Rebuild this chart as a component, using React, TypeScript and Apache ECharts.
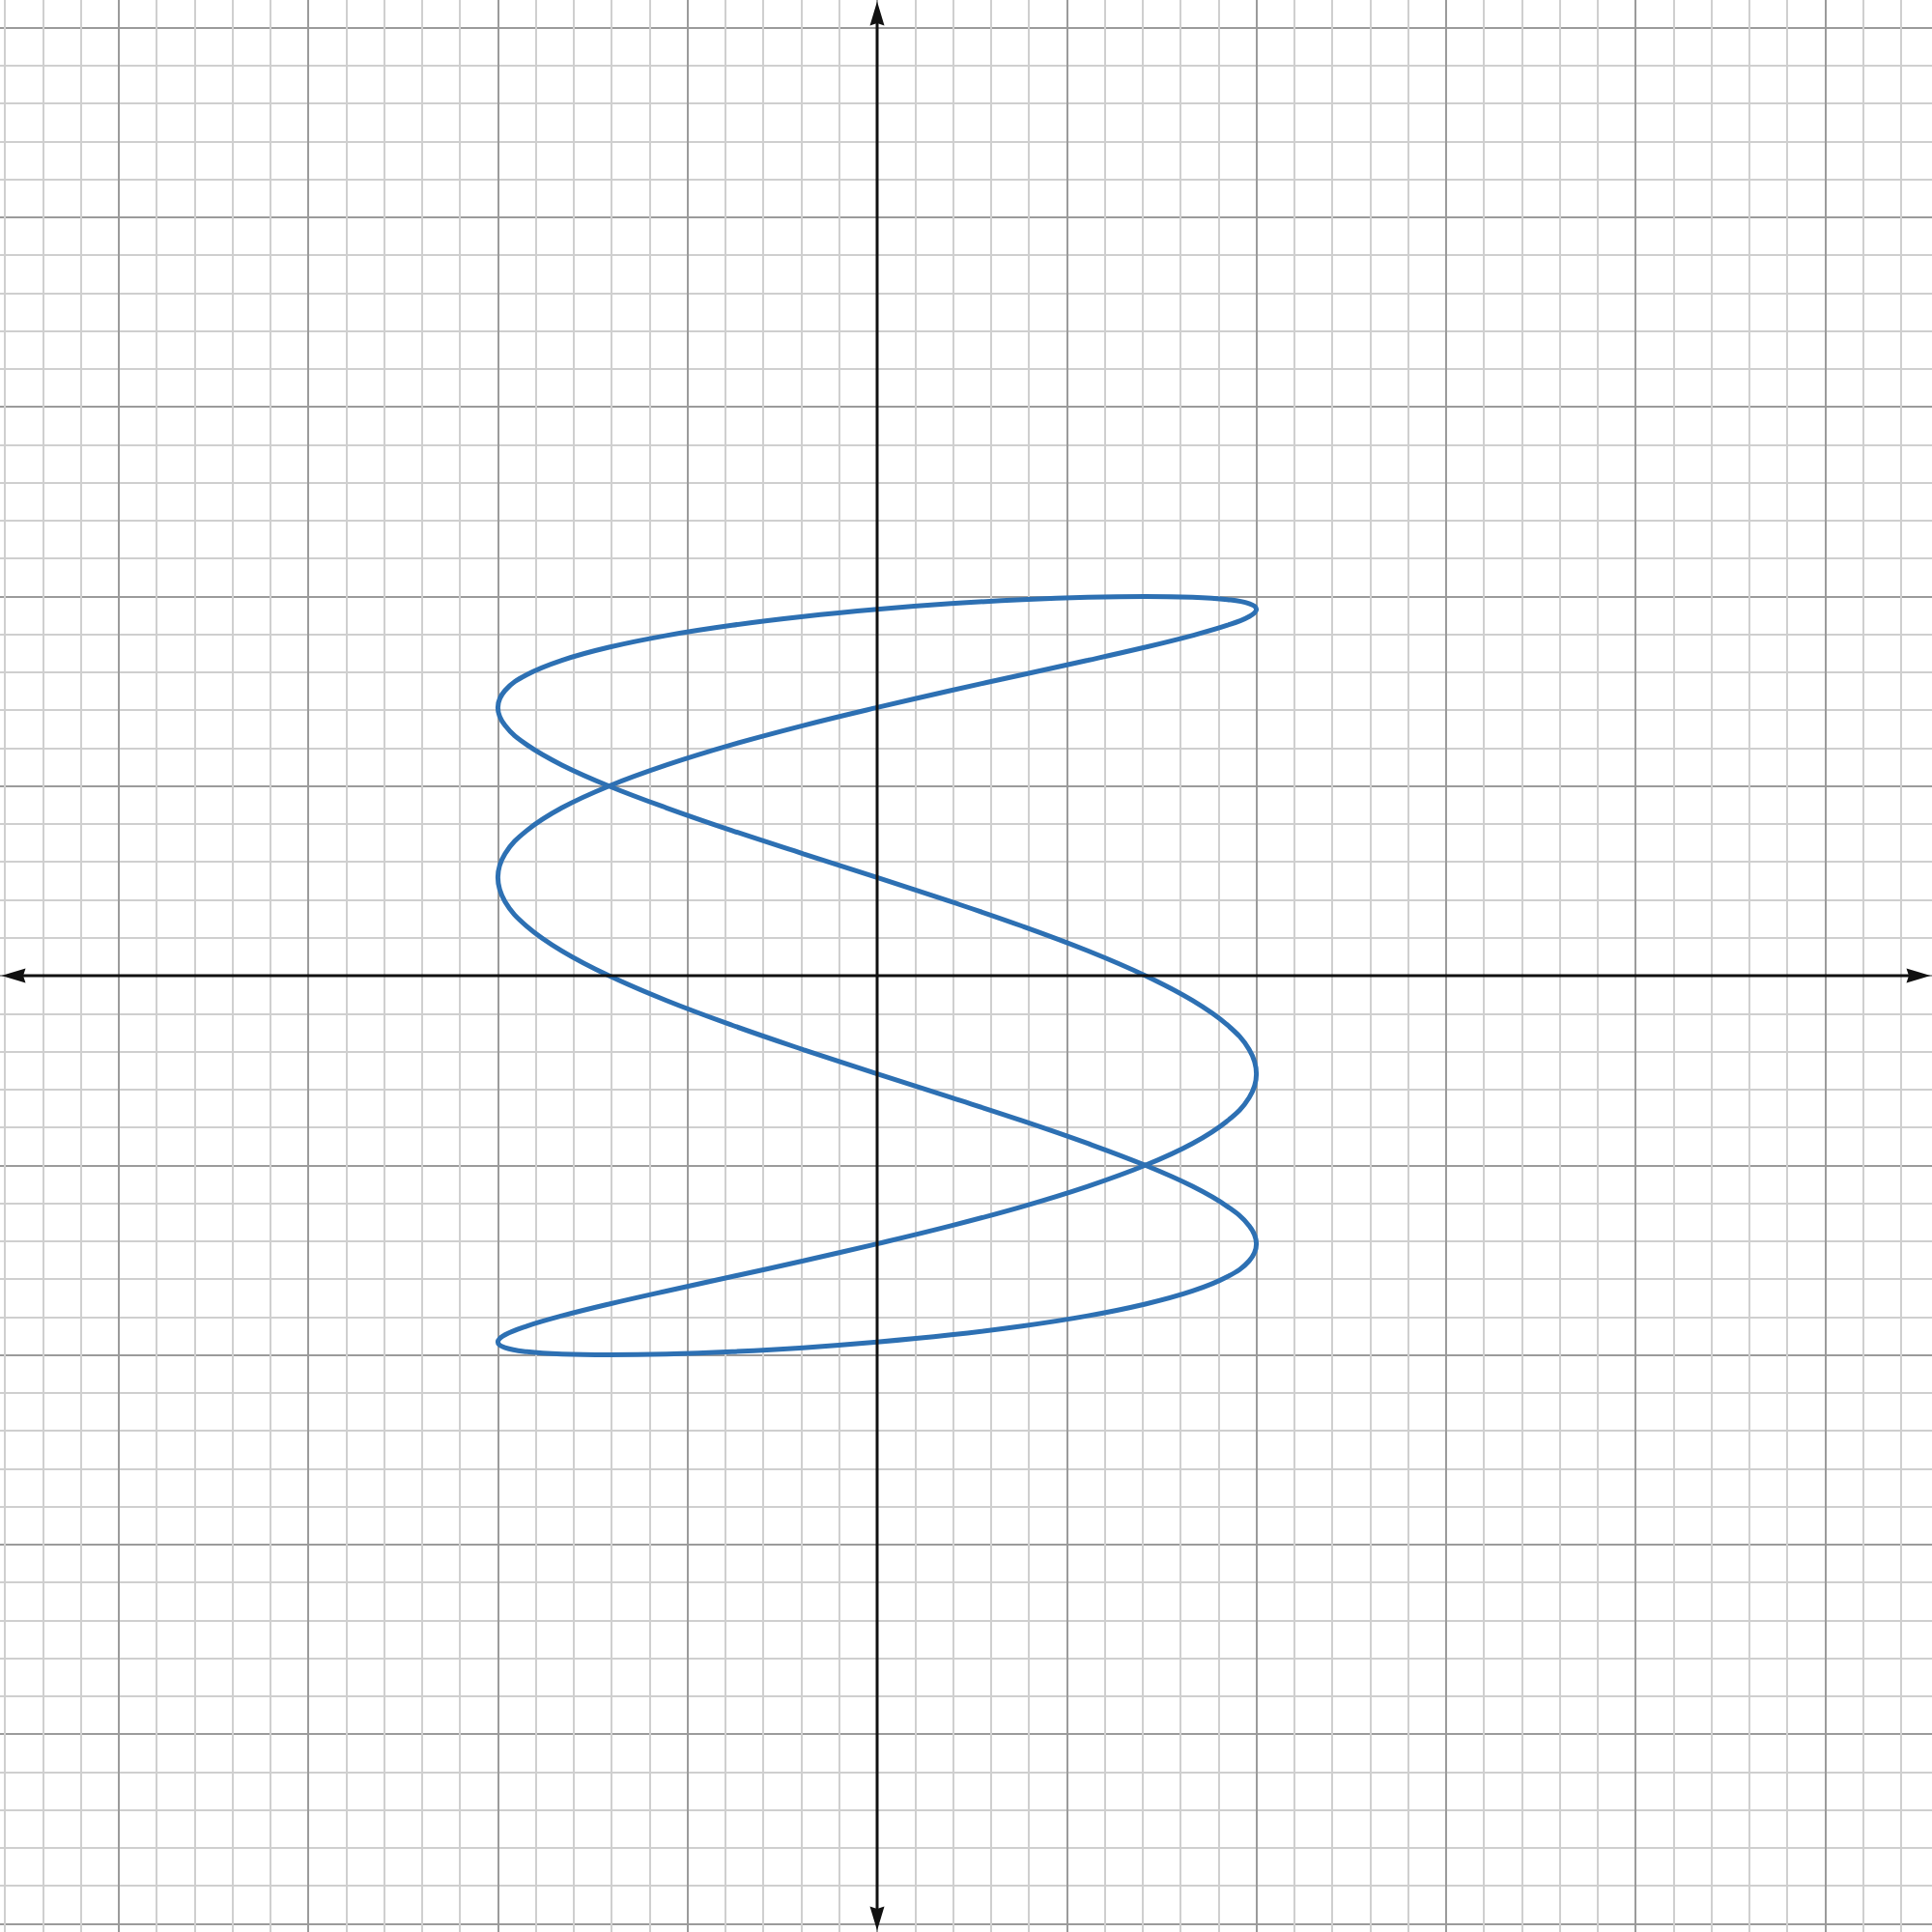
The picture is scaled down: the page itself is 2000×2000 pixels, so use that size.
import React, { useEffect, useRef } from "react";
import * as echarts from "echarts";

// Curve points (x, y in graph units), traced once around the closed loop
const xCycle = [
  1.414, 1.663, 1.848, 1.962, 2, 1.962, 1.848, 1.663, 1.414, 1.111, 0.765, 0.39, 0, -0.39, -0.765, -1.111,
  -1.414, -1.663, -1.848, -1.962, -2, -1.962, -1.848, -1.663, -1.414, -1.111, -0.765, -0.39, 0, 0.39, 0.765, 1.111,
];
const curveX = [
  1.111,
  1.414, 1.663, 1.848, 1.962, 2, 1.962, 1.848, 1.663, 1.414, 1.111, 0.765, 0.39, 0, -0.39, -0.765, -1.111,
  -1.414, -1.663, -1.848, -1.962, -2, -1.962, -1.848, -1.663, -1.414, -1.111, -0.765, -0.39, 0, 0.39, 0.765, 1.111,
  1.414, 1.663, 1.848, 1.962, 2, 1.962, 1.848, 1.663, 1.414, 1.111, 0.765, 0.39, 0, -0.39, -0.765, -1.111,
  -1.414, -1.663, -1.848, -1.962, -2, -1.962, -1.848, -1.663, -1.414, -1.111, -0.765, -0.39, 0, 0.39, 0.765, 1.111,
  1.414, 1.663, 1.848, 1.962, 2, 1.962, 1.848, 1.663, 1.414, 1.111, 0.765, 0.39, 0, -0.39, -0.765, -1.111,
  -1.414, -1.663, -1.848, -1.962, -2, -1.962, -1.848, -1.663, -1.414, -1.111, -0.765, -0.39, 0, 0.39, 0.765, 1.111,
  1.414, 1.663,
];
const curveY = [
  1.996,
  2, 1.996, 1.983, 1.962, 1.932, 1.894, 1.848, 1.794, 1.732, 1.663, 1.587, 1.504, 1.414, 1.319, 1.218, 1.111,
  1, 0.885, 0.765, 0.643, 0.518, 0.39, 0.261, 0.131, 0,
  -0.131, -0.261, -0.39, -0.518, -0.643, -0.765, -0.885, -1, -1.111, -1.218, -1.319, -1.414, -1.504, -1.587, -1.663,
  -1.732, -1.794, -1.848, -1.894, -1.932, -1.962, -1.983, -1.996, -2,
  -1.996, -1.983, -1.962, -1.932, -1.894, -1.848, -1.794, -1.732, -1.663, -1.587, -1.504, -1.414, -1.319, -1.218, -1.111,
  -1, -0.885, -0.765, -0.643, -0.518, -0.39, -0.261, -0.131, 0,
  0.131, 0.261, 0.39, 0.518, 0.643, 0.765, 0.885, 1, 1.111, 1.218, 1.319, 1.414, 1.504, 1.587, 1.663,
  1.732, 1.794, 1.848, 1.894, 1.932, 1.962, 1.983, 1.996,
  2, 1.996,
];

// Axis ranges (whole units, grid extends past the canvas)
const xRange = [-5, 6];
const yRange = [-6, 6];

const UNIT = 196.3;
const ORIGIN = [908, 1010];
const SIZE = 2000;

export default function App() {
  const ref = useRef<HTMLDivElement>(null);
  useEffect(() => {
    document.body.style.margin = "0";
    if (!ref.current) return;
    const chart = echarts.init(ref.current, null, { renderer: "svg" });
    const left = ORIGIN[0] + xRange[0] * UNIT;
    const top = ORIGIN[1] - yRange[1] * UNIT;
    const width = (xRange[1] - xRange[0]) * UNIT;
    const height = (yRange[1] - yRange[0]) * UNIT;
    const axisCommon = {
      type: "value" as const,
      interval: 1,
      axisLine: { show: false },
      axisTick: { show: false },
      axisLabel: { show: false },
      minorTick: { show: false, splitNumber: 5 },
      splitLine: { show: true, lineStyle: { color: "#9b9b9b", width: 2 } },
      minorSplitLine: { show: true, lineStyle: { color: "#cfcfcf", width: 2 } },
    };
    const data = curveX.map((x, i) => [x, curveY[i]]);
    chart.setOption({
      animation: false,
      backgroundColor: "#ffffff",
      grid: { left, top, width, height, containLabel: false, outerBoundsMode: "none" },
      xAxis: { ...axisCommon, min: xRange[0], max: xRange[1] },
      yAxis: { ...axisCommon, min: yRange[0], max: yRange[1] },
      series: [
        {
          type: "line",
          data,
          smooth: 0.4,
          showSymbol: false,
          symbol: "none",
          clip: false,
          lineStyle: { color: "#2d70b3", width: 5 },
          z: 5,
        },
      ],
    });
    const o = chart.convertToPixel({ xAxisIndex: 0, yAxisIndex: 0 }, [0, 0]) as number[];
    const ox = o[0];
    const oy = o[1];
    const ac = "#111111";
    const L = 25;
    const W = 7.5;
    const n = 2.5;
    chart.setOption({
      graphic: [
        { type: "line", shape: { x1: 10, y1: oy, x2: SIZE - 10, y2: oy }, style: { stroke: ac, lineWidth: 3 }, z: 10 },
        { type: "line", shape: { x1: ox, y1: 10, x2: ox, y2: SIZE - 10 }, style: { stroke: ac, lineWidth: 3 }, z: 10 },
        { type: "polygon", shape: { points: [[1.5, oy], [1.5 + L, oy - W], [1.5 + L - n, oy], [1.5 + L, oy + W]] }, style: { fill: ac }, z: 11 },
        { type: "polygon", shape: { points: [[SIZE - 1.5, oy], [SIZE - 1.5 - L, oy - W], [SIZE - 1.5 - L + n, oy], [SIZE - 1.5 - L, oy + W]] }, style: { fill: ac }, z: 11 },
        { type: "polygon", shape: { points: [[ox, 1.5], [ox - W, 1.5 + L], [ox, 1.5 + L - n], [ox + W, 1.5 + L]] }, style: { fill: ac }, z: 11 },
        { type: "polygon", shape: { points: [[ox, SIZE - 1.5], [ox - W, SIZE - 1.5 - L], [ox, SIZE - 1.5 - L + n], [ox + W, SIZE - 1.5 - L]] }, style: { fill: ac }, z: 11 },
      ],
    });
    return () => chart.dispose();
  }, []);
  return <div ref={ref} style={{ width: SIZE, height: SIZE, overflow: "hidden" }} />;
}
